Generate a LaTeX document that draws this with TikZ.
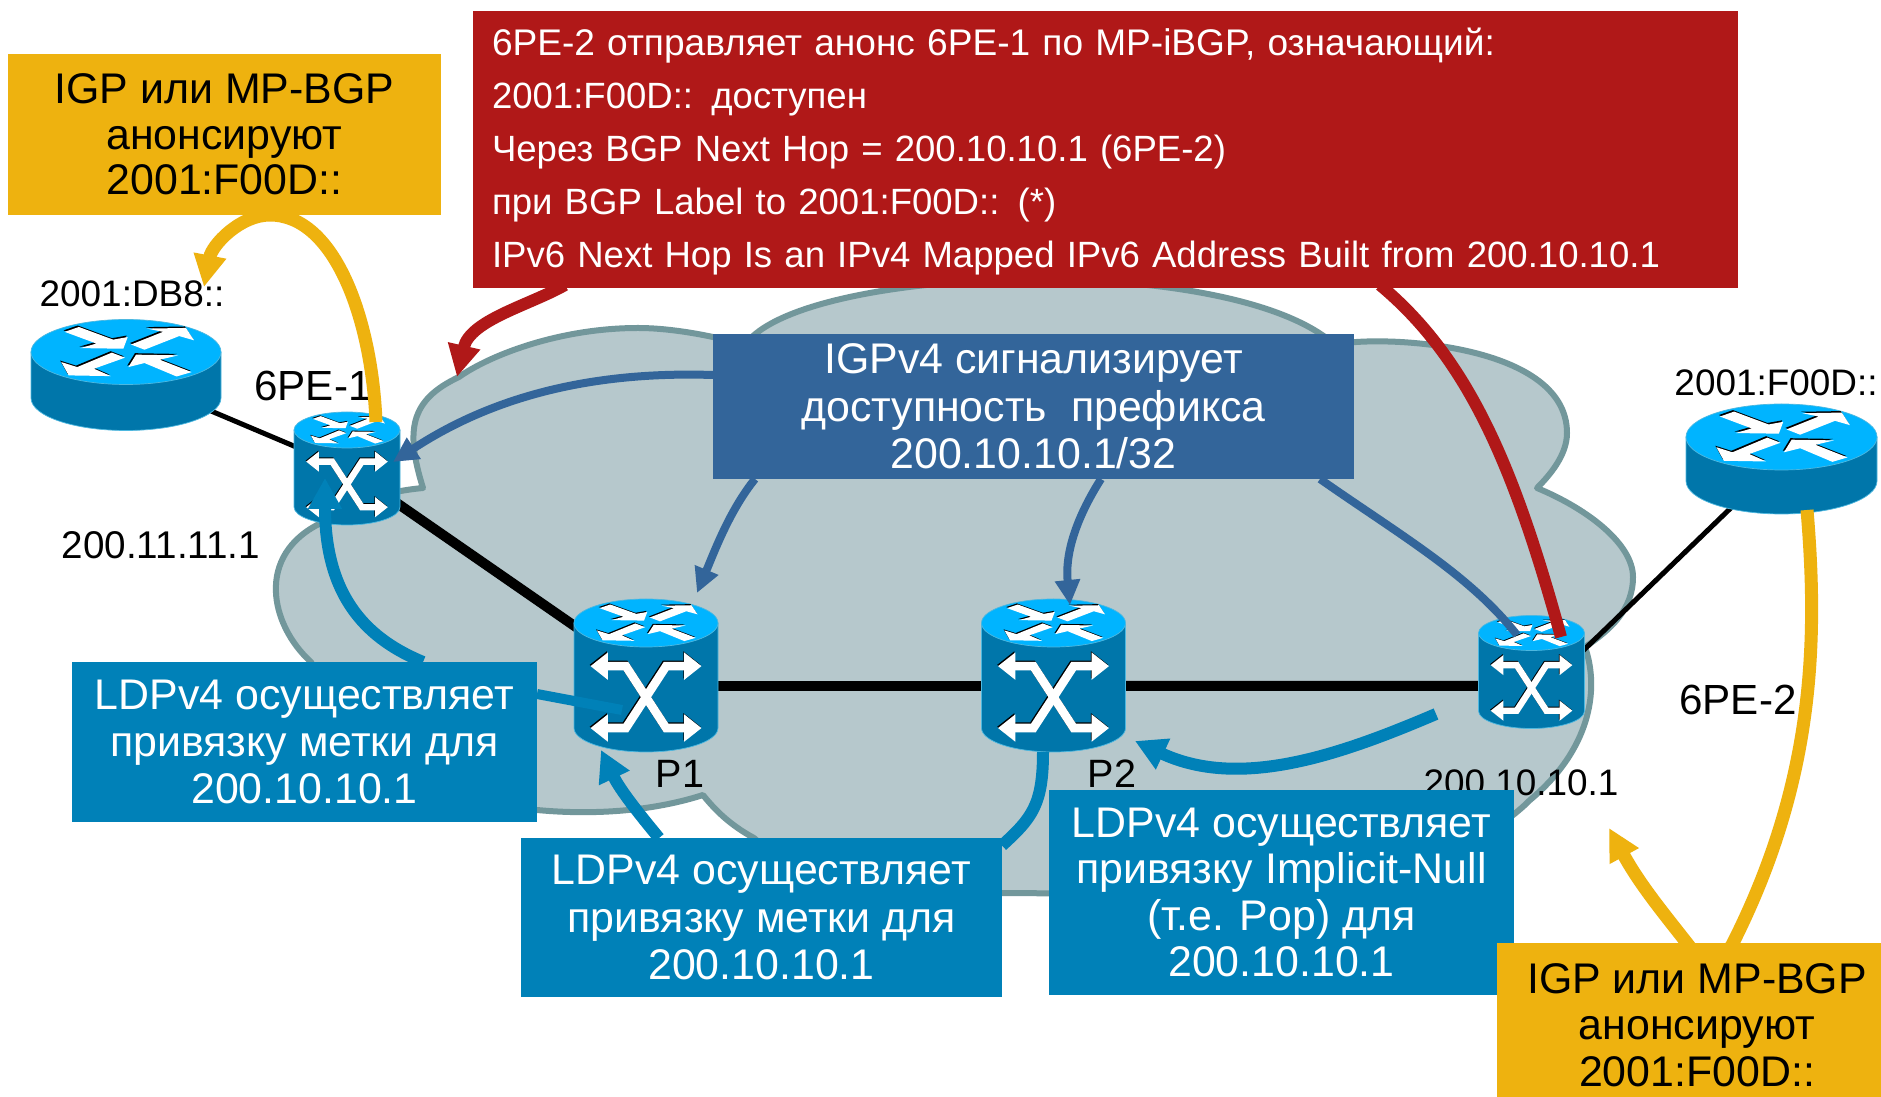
\documentclass[tikz,border=0pt]{standalone}
\usepackage{fontspec}
\setmainfont{Liberation Sans}
\usetikzlibrary{arrows.meta,calc}
\definecolor{cloudfill}{HTML}{B6C8CC}
\definecolor{cloudline}{HTML}{72979B}
\definecolor{devtop}{HTML}{00B4FF}
\definecolor{devbody}{HTML}{0076AA}
\definecolor{devedge}{HTML}{4DB8E0}
\definecolor{teal}{HTML}{0081B8}
\definecolor{navy}{HTML}{33659A}
\definecolor{redbox}{HTML}{B01818}
\definecolor{goldbox}{HTML}{EEB20F}
\def\P{0.02cm}
\tikzset{
  anchorbox/.style={inner sep=0pt,outer sep=0pt,draw=none},
  devnode/.style={anchorbox},
  fillbox/.style={anchorbox,align=center,font=\fontsize{24.4pt}{27pt}\selectfont},
  plainlabel/.style={inner sep=0pt,outer sep=0pt,font=\fontsize{21pt}{24pt}\selectfont},
  biglabel/.style={inner sep=0pt,outer sep=0pt,font=\fontsize{24pt}{27pt}\selectfont},
  thinlink/.style={draw=black,line width=5*\P},
  thicklink/.style={draw=black,line width=10*\P},
  navyarrow/.style={draw=navy,line width=8*\P},
  navytip/.style={navyarrow,-{Triangle[length=5mm,width=4.8mm]}},
  redarrow/.style={draw=redbox,line width=12*\P},
  redtip/.style={redarrow,-{Triangle[length=6.4mm,width=6.2mm]}},
  goldtip/.style={draw=goldbox,line width=13*\P,-{Triangle[length=6.4mm,width=6.2mm]}},
  tealarrow/.style={draw=teal,line width=12*\P},
  tealtip/.style={draw=teal,line width=12*\P,-{Triangle[length=6.2mm,width=6.4mm]}},
}
% the four arrows of a device's top face, in units of the ellipse radii
\newcommand\toparrows{%
  \foreach \shx/\shy/\col in {-.012/.045/black,0/0/white}{%
    \fill[\col,shift={(\shx,\shy)}] (-.645,.62) -- (-.496,.77) -- (-.135,.38) -- (.018,.46) -- (-.028,.10) -- (-.479,.12) -- (-.312,.26) -- cycle;
    \fill[\col,shift={(\shx,\shy)}] (.053,.23) -- (.39,.62) -- (.22,.72) -- (.631,.74) -- (.716,.36) -- (.56,.49) -- (.195,.07) -- cycle;
    \fill[\col,shift={(\shx,\shy)}] (-.011,-.175) -- (-.149,-.02) -- (-.514,-.464) -- (-.681,-.31) -- (-.603,-.72) -- (-.16,-.742) -- (-.337,-.515) -- cycle;
    \fill[\col,shift={(\shx,\shy)}] (.691,-.619) -- (.532,-.753) -- (.195,-.34) -- (.025,-.464) -- (.106,-.082) -- (.55,-.103) -- (.355,-.237) -- cycle;
  }}
% cylinder body and top face; #1 node, #2 rx, #3 ry, #4 distance between ellipse centres
\newcommand\devshape[4]{%
  \begin{scope}[shift={(#1.center)},x=0.02cm,y=0.02cm]
    \path[fill=devbody,draw=devedge,line width=.4pt] (-#2,#4/2) -- (-#2,-#4/2)
      arc[start angle=180,end angle=360,x radius=#2,y radius=#3] -- (#2,#4/2) -- cycle;
    \path[fill=devtop,draw=devedge,line width=.4pt] (0,#4/2) ellipse [x radius=#2,y radius=#3];
    \begin{scope}[shift={(0,#4/2)},xscale=#2,yscale=#3]
      \toparrows
    \end{scope}
  \end{scope}}
% crossing arrows on the front of a switch
\newcommand\switchicon[2]{%
  \begin{scope}[shift={(#1.center)},x=0.02cm,y=0.02cm]
    \begin{scope}[shift={(0,-.3*#2)},scale=#2]
      \foreach \shx/\shy/\col in {-.012/.018/black,0/0/white}{%
        \begin{scope}[shift={(\shx,\shy)}]
        \draw[\col,line width=#2*0.0024cm] (-.55,.43) -- (-.28,.43) -- (.28,-.43) -- (.55,-.43);
        \draw[\col,line width=#2*0.0024cm] (-.55,-.43) -- (-.28,-.43) -- (.28,.43) -- (.55,.43);
        \fill[\col] (-.77,.43) -- (-.53,.62) -- (-.53,.24) -- cycle;
        \fill[\col] (-.77,-.43) -- (-.53,-.24) -- (-.53,-.62) -- cycle;
        \fill[\col] (.77,.43) -- (.53,.62) -- (.53,.24) -- cycle;
        \fill[\col] (.77,-.43) -- (.53,-.24) -- (.53,-.62) -- cycle;
        \end{scope}
      }
    \end{scope}
  \end{scope}}
\begin{document}
\begin{tikzpicture}[x=0.02cm,y=-0.02cm]
\useasboundingbox (0,0) rectangle (1881,1097);
\fill[white] (0,0) rectangle (1881,1097);

% device anchors
\node[devnode,minimum width=190*\P,minimum height=111*\P] (r1) at (126,375) {};
\node[devnode,minimum width=191*\P,minimum height=110*\P] (r2) at (1781.5,459) {};
\node[devnode,minimum width=106*\P,minimum height=113*\P] (pe1) at (347,468.5) {};
\node[devnode,minimum width=106*\P,minimum height=113*\P] (pe2) at (1531.5,672) {};
\node[devnode,minimum width=144*\P,minimum height=153*\P] (p1) at (646,675.5) {};
\node[devnode,minimum width=144*\P,minimum height=153*\P] (p2) at (1053.5,675.5) {};
\coordinate (cloudtip) at (457,377);

% cloud
\path[fill=cloudfill,draw=cloudline,line width=6*\P,line join=round]
  (423,488) .. controls (405,430) and (410,400) .. (459,377)
  .. controls (490,355) and (560,328) .. (638,328)
  .. controls (670,328) and (710,335) .. (745,345)
  .. controls (800,265) and (1230,250) .. (1335,345)
  .. controls (1370,335) and (1567,340) .. (1567,433)
  .. controls (1567,455) and (1550,475) .. (1537,488)
  .. controls (1590,510) and (1633,545) .. (1633,577)
  .. controls (1633,610) and (1610,630) .. (1585,647)
  .. controls (1600,690) and (1590,750) .. (1530,800)
  .. controls (1500,830) and (1450,860) .. (1340,880)
  .. controls (1200,900) and (1100,893) .. (1000,893)
  .. controls (900,893) and (800,880) .. (754,838)
  .. controls (730,825) and (715,810) .. (703,795)
  .. controls (650,812) and (590,815) .. (537,810)
  .. controls (450,800) and (340,720) .. (311,662)
  .. controls (270,625) and (255,555) .. (321,523)
  .. controls (345,505) and (380,492) .. (423,488) -- cycle;

% links
\draw[thinlink] (r1.center) -- (pe1.center);
\draw[thicklink] (pe1.center) -- (p1.center);
\draw[thicklink] ($(p1)+(0,10.5)$) -- ($(p2)+(0,10.5)$);
\draw[thicklink] ($(p2)+(0,10.5)$) -- ($(pe2)+(0,14)$);
\draw[thinlink] ($(pe2)+(28.5,1)$) -- (r2.center);

% devices
\devshape{r1}{95}{32.5}{46}
\devshape{r2}{95.5}{33}{44}
\devshape{pe1}{53}{18}{77}\switchicon{pe1}{53}
\devshape{pe2}{53}{17.5}{78}\switchicon{pe2}{53}
\devshape{p1}{72}{24}{105}\switchicon{p1}{72}
\devshape{p2}{72}{24}{105}\switchicon{p2}{72}

% labels
\node[plainlabel] (lr1) at (132,294) {2001:DB8::};
\node[biglabel] (lpe1) at (313,386) {6PE-1};
\node[plainlabel,font=\fontsize{22pt}{24pt}\selectfont] (lip1) at (161,545) {200.11.11.1};
\node[plainlabel,font=\fontsize{22.5pt}{24pt}\selectfont] (lp1) at (680,774) {P1};
\node[plainlabel,font=\fontsize{22.5pt}{24pt}\selectfont] (lp2) at (1112,774) {P2};
\node[plainlabel] (lip2) at (1521,783) {200.10.10.1};
\node[plainlabel] (lr2) at (1776,383) {2001:F00D::};
\node[biglabel] (lpe2) at (1738,700) {6PE-2};

\node[fillbox,fill=goldbox,minimum width=433*\P,minimum height=161*\P,font=\fontsize{24.4pt}{25.9pt}\selectfont] (tl) at (224.5,134.5) {IGP или MP-BGP\\анонсируют\\2001:F00D::};
\node[fillbox,fill=redbox,text=white,inner xsep=19*\P,text width=1227*\P,minimum height=277*\P,align=left,font=\fontsize{20.8pt}{30.3pt}\selectfont] (redb) at (1105.5,149.5)
 {\rule{0pt}{18pt}\fontsize{21.1pt}{30.3pt}\selectfont 6PE-2 отправляет анонс 6PE-1 по MP-iBGP, означающий:\\
  \fontsize{20.8pt}{30.3pt}\selectfont 2001:F00D:: доступен\\
  Через BGP Next Hop = 200.10.10.1 (6PE-2)\\
  при BGP Label to 2001:F00D:: (*)\\
  IPv6 Next Hop Is an IPv4 Mapped IPv6 Address Built from 200.10.10.1};

% red connectors
\draw[redtip] ($(redb.south)+(-540.5,-3)$) .. controls (530,305) and (470,320) .. (cloudtip);
\draw[redarrow] ($(redb.south)+(274.5,-3)$) .. controls (1470,360) and (1515,470) .. ($(pe2)+(29.5,-35)$);

% blue box and its connectors
\node[fillbox,fill=navy,text=white,minimum width=641*\P,minimum height=145*\P] (igp) at (1033.5,406.5) {IGPv4 сигнализирует\\доступность\ \ префикса\\200.10.10.1/32};
\draw[navytip] ($(igp.west)+(0,-31.5)$) .. controls (620,372) and (510,385) .. ($(pe1)+(46,-6.5)$);
\draw[navytip] ($(igp.south)+(-278.5,0)$) .. controls (730,510) and (715,550) .. ($(p1)+(51,-82.5)$);
\draw[navytip] ($(igp.south)+(67.5,0)$) .. controls (1075,520) and (1065,555) .. ($(p2)+(16.5,-70.5)$);
\draw[navyarrow] ($(igp.south)+(286.5,0)$) .. controls (1400,535) and (1470,575) .. ($(pe2)+(-14.5,-37)$);

% gold connector on the left
\draw[goldtip] ($(pe1)+(29,-46.5)$) .. controls (372,320) and (335,215) .. ($(tl.south)+(45.5,0)$) .. controls (240,215) and (212,245) .. ($(r1)+(78,-88)$);

% teal boxes and connectors
\node[fillbox,fill=teal,text=white,minimum width=465*\P,minimum height=160*\P] (ldpl) at (304.5,742) {LDPv4 осуществляет\\привязку метки для\\200.10.10.1};
\node[fillbox,fill=teal,text=white,minimum width=481*\P,minimum height=159*\P] (ldpm) at (761.5,917.5) {LDPv4 осуществляет\\привязку метки для\\200.10.10.1};
\node[fillbox,fill=teal,text=white,minimum width=465*\P,minimum height=205*\P,font=\fontsize{24.4pt}{26.4pt}\selectfont] (ldpr) at (1281.5,892.5) {LDPv4 осуществляет\\привязку Implicit-Null\\(т.е. Pop) для\\200.10.10.1};
\draw[tealtip] ($(ldpl.north)+(118.5,0)$) .. controls (370,640) and (325,600) .. ($(pe1)+(-22,9.5)$);
\draw[draw=teal,line width=10*\P] ($(ldpl.east)+(0,-48)$) -- ($(p1)+(-24,34.5)$);
\draw[tealtip] ($(ldpm.north)+(-102.5,0)$) .. controls (640,815) and (620,790) .. ($(p1)+(-45,74.5)$);
\draw[tealarrow] ($(p2)+(-10.5,76.5)$) .. controls (1043,805) and (1032,818) .. ($(ldpm.east)+(0,-72)$);
\draw[tealtip] ($(pe2)+(-95.5,42)$) .. controls (1340,755) and (1240,790) .. ($(p2)+(81.5,65.5)$);

% lower right gold box
\node[fillbox,fill=goldbox,minimum width=384*\P,minimum height=164*\P,font=\fontsize{24.4pt}{26.6pt}\selectfont] (br) at (1689,1025) {\hspace*{.32cm}IGP или MP-BGP\\\hspace*{.32cm}анонсируют\\\hspace*{.32cm}2001:F00D::};
\draw[goldtip] ($(r2)+(25.5,51)$) .. controls (1818,640) and (1815,780) .. ($(br.north)+(44,0)$) .. controls (1725,960) and (1700,960) .. ($(br.north)+(1,4)$) .. controls (1665,915) and (1640,885) .. ($(pe2)+(77.5,156)$);
\end{tikzpicture}
\end{document}
